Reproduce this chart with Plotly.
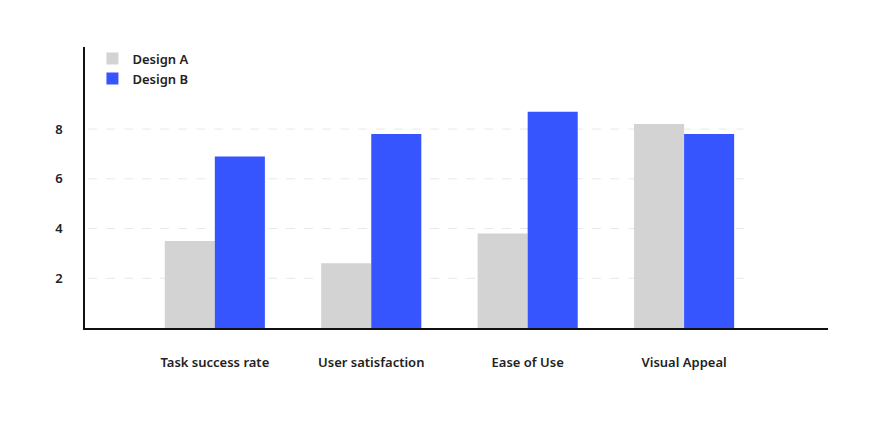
import plotly.graph_objects as go

categories = ["Task success rate", "User satisfaction", "Ease of Use", "Visual Appeal"]
design_a = [3.5, 2.6, 3.8, 8.2]
design_b = [6.9, 7.8, 8.7, 7.8]
y_ticks = [2, 4, 6, 8]

font = dict(family="Noto Sans", size=13, color="#222222", weight=600)

fig = go.Figure()
fig.add_trace(go.Bar(name="Design A", x=categories, y=design_a,
                     marker=dict(color="#d3d3d3", line=dict(width=0))))
fig.add_trace(go.Bar(name="Design B", x=categories, y=design_b,
                     marker=dict(color="#3655ff", line=dict(width=0))))

# dashed grid lines stop short of the axis end, so draw them as shapes
for t in y_ticks:
    fig.add_shape(type="line", xref="x", yref="y", x0=-0.81, x1=3.38, y0=t, y1=t,
                  line=dict(color="#e8e8e8", width=1, dash="dash"), layer="below")

fig.update_layout(
    width=871, height=432,
    margin=dict(l=77, r=51, t=39, b=112),
    paper_bgcolor="white", plot_bgcolor="white",
    barmode="group", bargap=0.36, bargroupgap=0,
    font=font,
    showlegend=True,
    legend=dict(x=0.01, y=1.012, xanchor="left", yanchor="top",
                bgcolor="rgba(0,0,0,0)", font=font, tracegroupgap=0,
                itemwidth=30),
)
fig.update_xaxes(range=[-0.83, 3.92], showgrid=False, showline=True,
                 linecolor="#111111", linewidth=1.5, ticks="",
                 ticklabelstandoff=22, tickfont=font)
fig.update_yaxes(range=[0, 11.3], tickvals=y_ticks, showgrid=False, zeroline=False,
                 showline=True, linecolor="#111111", linewidth=1.5, ticks="",
                 ticklabelstandoff=18, tickfont=font)

fig.write_html("out.html")
